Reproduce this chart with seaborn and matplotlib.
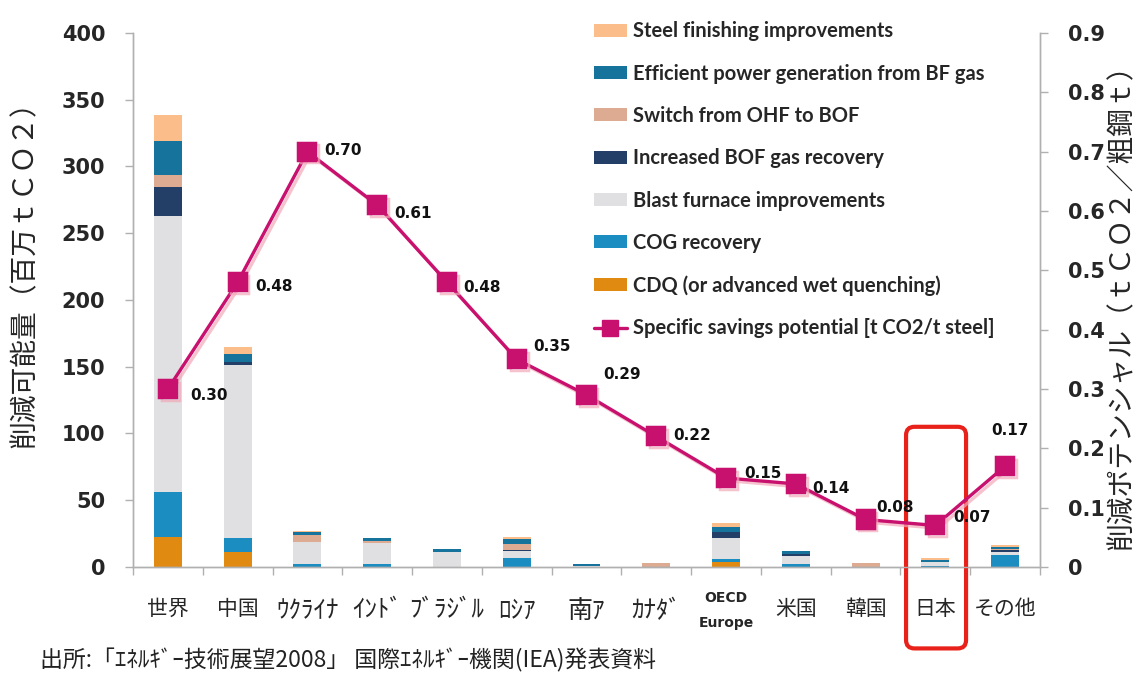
import numpy as np
import pandas as pd
import matplotlib
matplotlib.use("Agg")
import matplotlib.pyplot as plt
import matplotlib.patheffects as pe
from matplotlib.patches import Patch, FancyBboxPatch
from matplotlib.lines import Line2D
import seaborn as sns

countries = ['世界', '中国', 'ｳｸﾗｲﾅ', 'ｲﾝﾄﾞ', 'ﾌﾞﾗｼﾞﾙ', 'ﾛｼｱ', '南ｱ', 'ｶﾅﾀﾞ',
             'OECD\nEurope', '米国', '韓国', '日本', 'その他']

# stacked components, bottom to top (million t CO2)
cdq = [22.7, 11.5, 0, 0, 0, 0, 0, 0, 3.5, 0, 0, 0, 0]
cog = [33.6, 10, 2.5, 2, 0, 7, 0, 0, 2.5, 2, 0, 0.5, 9]
blast_furnace = [206.7, 130, 16, 16, 11, 5, 0.5, 0, 16, 6, 0, 3, 2.5]
bof_gas = [21.7, 2, 0, 0, 0, 0.5, 0, 0, 4, 2, 0, 0, 1]
ohf_switch = [9, 0, 5.5, 1.5, 0, 5, 0, 3, 0, 0, 3, 0, 1]
bf_power = [25.3, 6, 2.5, 2, 2.5, 3.5, 1.5, 0, 4, 2, 0, 2, 1.5]
steel_finishing = [19.5, 5, 0.5, 0, 0, 1.5, 0, 0, 3, 0, 0, 1, 1.5]

# specific savings potential (t CO2 / t steel)
specific = [0.30, 0.48, 0.70, 0.61, 0.48, 0.35, 0.29, 0.22, 0.15, 0.14, 0.08, 0.07, 0.17]

components = [
    ('CDQ (or advanced wet quenching)', cdq, '#E08A12'),
    ('COG recovery', cog, '#1B8DC0'),
    ('Blast furnace improvements', blast_furnace, '#E0E0E2'),
    ('Increased BOF gas recovery', bof_gas, '#233F68'),
    ('Switch from OHF to BOF', ohf_switch, '#DDAA92'),
    ('Efficient power generation from BF gas', bf_power, '#15739C'),
    ('Steel finishing improvements', steel_finishing, '#FBBE8A'),
]
line_color = '#C8106E'

sns.set_style('white')
plt.rcParams['font.family'] = ['Noto Sans CJK JP', 'DejaVu Sans']

fig = plt.figure(figsize=(11.37, 6.77), dpi=100)
ax = fig.add_axes([0.117, 0.1625, 0.7977, 0.7888])

bottom = np.zeros(len(countries))
for name, vals, col in components:
    sns.barplot(x=countries, y=vals, ax=ax, color=col, saturation=1,
                width=0.4, bottom=bottom.copy(), linewidth=0, edgecolor='none')
    bottom += np.array(vals)

ax2 = ax.twinx()
sns.pointplot(x=countries, y=specific, ax=ax2, color=line_color, markers='s',
              markersize=13, linewidth=2.4, errorbar=None)
for ln in ax2.lines:
    ln.set_path_effects([pe.SimpleLineShadow(offset=(2, -2), shadow_color='#F2A8B8', alpha=0.7),
                         pe.Normal()])

# value labels next to the markers (offsets in points)
label_offsets = {0: (16, -5), 1: (13, -3), 3: (12, -6), 4: (12, -4), 5: (12, 9),
                 6: (12, 15), 8: (13, 3), 9: (12, -3), 10: (8, 9), 11: (13, 6), 12: (-10, 26)}
for i, v in enumerate(specific):
    dx, dy = label_offsets.get(i, (12, 1))
    ax2.annotate(f'{v:.2f}', (i, v), xytext=(dx, dy), textcoords='offset points',
                 ha='left', va='center', fontsize=11, fontweight='bold',
                 family='DejaVu Sans', color='#111111')

ax.set_xlim(-0.5, len(countries) - 0.5)
ax.set_ylim(0, 400)
ax2.set_ylim(0, 0.9)
ax.set_yticks(np.arange(0, 401, 50))
ax2.set_yticks(np.arange(0, 0.91, 0.1))
ax2.set_yticklabels(['0'] + [f'{t:.1f}' for t in np.arange(0.1, 0.91, 0.1)])

grey = '#B0B0B0'
for a in (ax, ax2):
    for s in a.spines.values():
        s.set_color(grey)
        s.set_linewidth(1)
    a.spines['top'].set_visible(False)
ax.tick_params(axis='y', left=True, length=6, width=1, color=grey, pad=14, labelsize=15)
ax2.tick_params(axis='y', right=True, length=6, width=1, color=grey, pad=14, labelsize=15)
for lab in ax.get_yticklabels() + ax2.get_yticklabels():
    lab.set_fontweight('bold')
    lab.set_family('DejaVu Sans')

ax.set_xticks(range(len(countries)))
ax.set_xticks(np.arange(-0.5, len(countries), 1), minor=True)
ax.tick_params(axis='x', which='major', length=0, pad=22, labelsize=15)
ax.tick_params(axis='x', which='minor', bottom=True, length=6, width=1, color=grey)
ax.set_xticklabels(countries)
for lab in ax.get_xticklabels():
    txt = lab.get_text()
    if txt.startswith('OECD'):
        lab.set_fontsize(10)
        lab.set_fontweight('bold')
        lab.set_family('DejaVu Sans')
        lab.set_linespacing(2.0)
        lab.set_y(0.012)
    elif any('\uff61' <= ch <= '\uff9f' for ch in txt):
        lab.set_fontsize(18)
ax.set_xlabel('')
ax2.set_xlabel('')

ax.set_ylabel('削減可能量（百万ｔＣＯ２）', fontsize=20)
ax.yaxis.set_label_coords(-0.1025, 0.56)
ax2.set_ylabel('削減ポテンシャル（ｔＣＯ２／粗鋼ｔ）', fontsize=20, rotation=90)
ax2.yaxis.set_label_coords(1.0735, 0.5)

handles = [Patch(facecolor=c, edgecolor='none', label=n) for n, _, c in components[::-1]]
handles.append(Line2D([0], [0], color=line_color, marker='s', markersize=12, lw=2.4,
                      label='Specific savings potential [t CO2/t steel]'))
ax2.legend(handles=handles, loc='upper left', bbox_to_anchor=(0.508, 1.022), frameon=False,
           prop={'family': 'Lato', 'weight': 'bold', 'size': 14.5},
           handlelength=1.65, handleheight=0.6, handletextpad=0.3, labelspacing=1.11,
           borderpad=0, borderaxespad=0)

# highlight box around Japan
box = FancyBboxPatch((10.58, -61), 0.86, 166, boxstyle='round,pad=0,rounding_size=0.12',
                     mutation_aspect=52, transform=ax.transData, fill=False,
                     edgecolor='#E8211A', linewidth=3, clip_on=False, zorder=10)
ax.add_patch(box)

fig.text(0.035, 0.025, '出所:「ｴﾈﾙｷﾞｰ技術展望2008」 国際ｴﾈﾙｷﾞｰ機関(IEA)発表資料',
         fontsize=16.5, ha='left', va='center', color='#222222')

fig.savefig('out.png', dpi=100)
